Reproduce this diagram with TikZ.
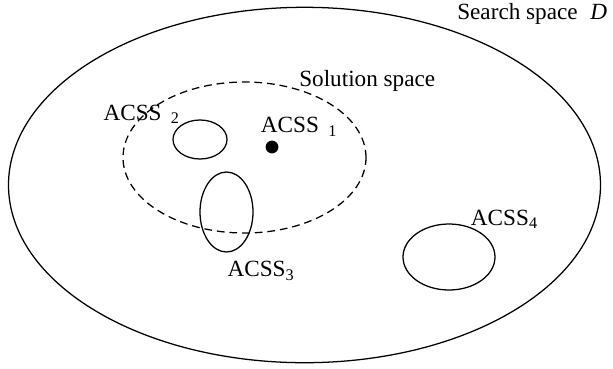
\documentclass[tikz,border=0pt]{standalone}
\usepackage{fontspec}
\setmainfont{Liberation Serif}
\usepackage{tikz}

\newcommand{\acsslabel}[2]{ACSS#1\textsubscript{#2}}

\tikzset{
    region/.style={line width=0.9pt},
    solspace/.style={line width=0.9pt, dash pattern=on 5.5pt off 3.5pt},
    lbl/.style={anchor=base west, inner sep=0pt, font=\fontsize{16.5}{19}\selectfont}
}

\begin{document}
\begin{tikzpicture}
    \useasboundingbox (0,0) rectangle (15.325,-9.2);

    \draw [region] (7.6125,-4.625) ellipse (7.4 and 4.4425);
    \draw [solspace] (6.1125,-3.9375) ellipse (3.0375 and 1.8875);

    \draw [region] (5.0,-3.4875) ellipse (0.675 and 0.4875);
    \draw [region] (5.6625,-5.3) ellipse (0.6625 and 1.0);
    \draw [region] (11.225,-6.425) ellipse (1.15 and 0.825);

    \fill (6.8,-3.675) circle (0.16);

    \node[lbl] (search) at (11.425,-0.475) {Search space\hspace{0.55em}\textit{D}};
    \node[lbl] (solution) at (7.475,-2.1675) {Solution space};
    \node[lbl] (acssone) at (6.5175,-3.3175) {\acsslabel{\hspace{0.4em}}{1}};
    \node[lbl] (acsstwo) at (2.5825,-3.0) {\acsslabel{\hspace{0.4em}}{2}};
    \node[lbl] (acssthree) at (5.6825,-6.9175) {\acsslabel{}{3}};
    \node[lbl] (acssfour) at (11.7675,-5.625) {\acsslabel{}{4}};
\end{tikzpicture}
\end{document}
